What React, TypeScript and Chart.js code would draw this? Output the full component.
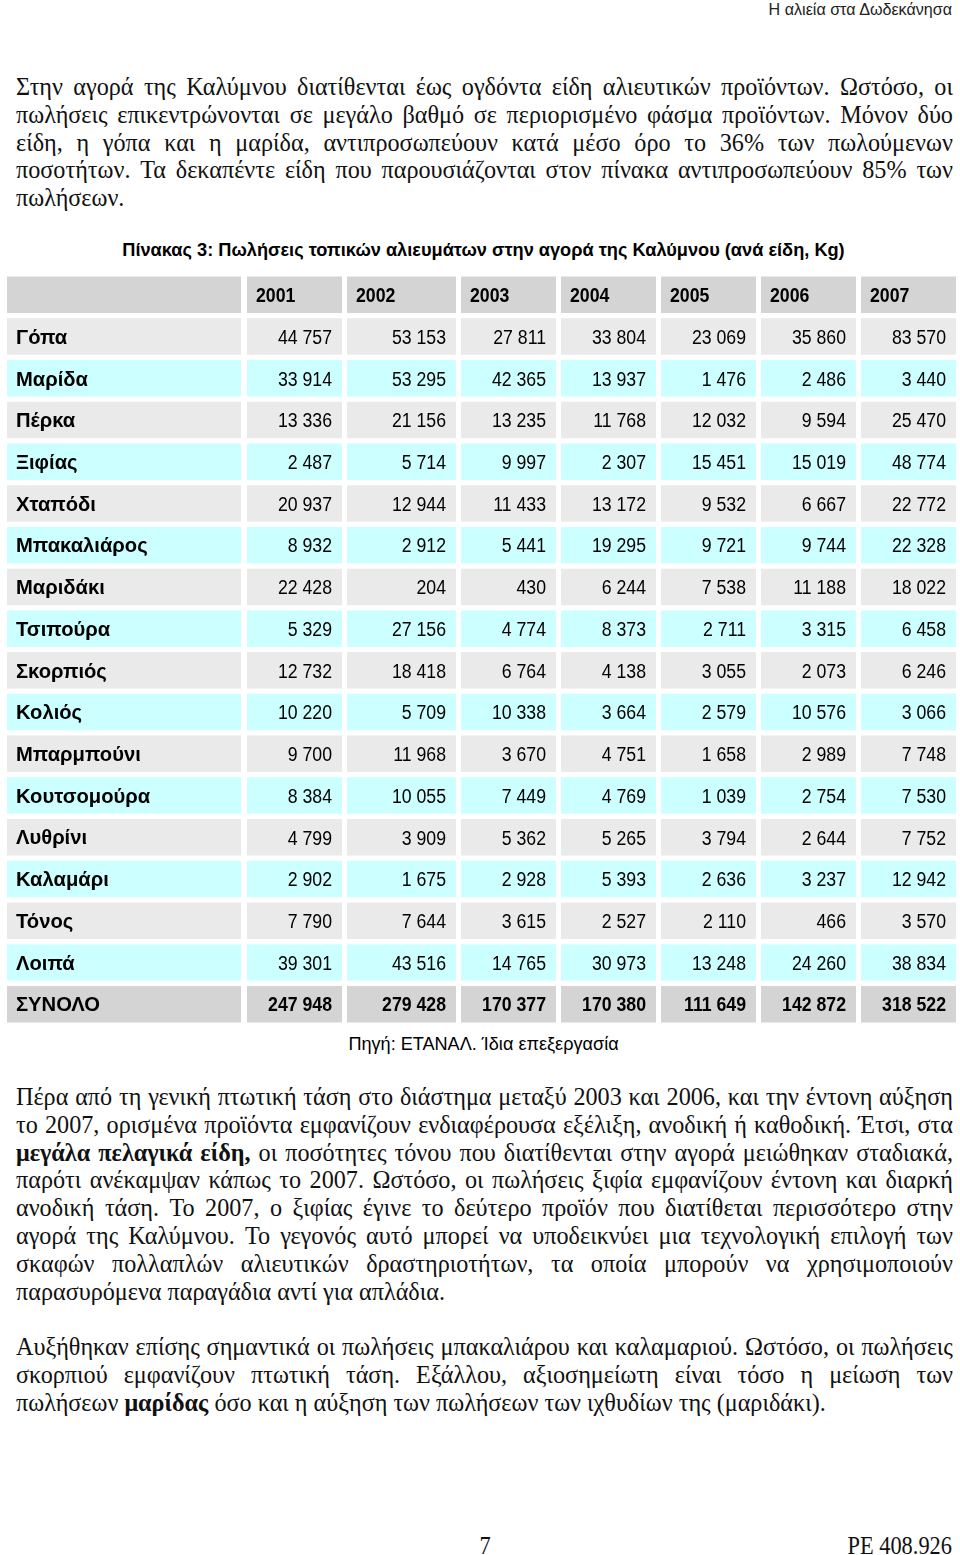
import React, { useEffect, useRef } from "react";
import { Chart, registerables } from "chart.js";

Chart.register(...registerables);

// ---------- data ----------
const years = ["2001", "2002", "2003", "2004", "2005", "2006", "2007"];
const species = [
  "Γόπα", "Μαρίδα", "Πέρκα", "Ξιφίας", "Χταπόδι", "Μπακαλιάρος", "Μαριδάκι", "Τσιπούρα",
  "Σκορπιός", "Κολιός", "Μπαρμπούνι", "Κουτσομούρα", "Λυθρίνι", "Καλαμάρι", "Τόνος", "Λοιπά",
];
const sales2001 = [44757, 33914, 13336, 2487, 20937, 8932, 22428, 5329, 12732, 10220, 9700, 8384, 4799, 2902, 7790, 39301];
const sales2002 = [53153, 53295, 21156, 5714, 12944, 2912, 204, 27156, 18418, 5709, 11968, 10055, 3909, 1675, 7644, 43516];
const sales2003 = [27811, 42365, 13235, 9997, 11433, 5441, 430, 4774, 6764, 10338, 3670, 7449, 5362, 2928, 3615, 14765];
const sales2004 = [33804, 13937, 11768, 2307, 13172, 19295, 6244, 8373, 4138, 3664, 4751, 4769, 5265, 5393, 2527, 30973];
const sales2005 = [23069, 1476, 12032, 15451, 9532, 9721, 7538, 2711, 3055, 2579, 1658, 1039, 3794, 2636, 2110, 13248];
const sales2006 = [35860, 2486, 9594, 15019, 6667, 9744, 11188, 3315, 2073, 10576, 2989, 2754, 2644, 3237, 466, 24260];
const sales2007 = [83570, 3440, 25470, 48774, 22772, 22328, 18022, 6458, 6246, 3066, 7748, 7530, 7752, 12942, 3570, 38834];
const totalLabel = "ΣΥΝΟΛΟ";
const totals = [247948, 279428, 170377, 170380, 111649, 142872, 318522];

const tableTitle = "Πίνακας 3: Πωλήσεις τοπικών αλιευμάτων στην αγορά της Καλύμνου (ανά είδη, Kg)";
const sourceNote = "Πηγή: ΕΤΑΝΑΛ. Ίδια επεξεργασία";
const runningHead = "Η αλιεία στα Δωδεκάνησα";
const pageNumber = "7";
const docRef = "PE 408.926";

const para1 = [
  "Στην αγορά της Καλύμνου διατίθενται έως ογδόντα είδη αλιευτικών προϊόντων. Ωστόσο, οι",
  "πωλήσεις επικεντρώνονται σε μεγάλο βαθμό σε περιορισμένο φάσμα προϊόντων. Μόνον δύο",
  "είδη, η γόπα και η μαρίδα, αντιπροσωπεύουν κατά μέσο όρο το 36% των πωλούμενων",
  "ποσοτήτων. Τα δεκαπέντε είδη που παρουσιάζονται στον πίνακα αντιπροσωπεύουν 85% των",
  "πωλήσεων.",
];
const para2 = [
  "Πέρα από τη γενική πτωτική τάση στο διάστημα μεταξύ 2003 και 2006, και την έντονη αύξηση",
  "το 2007, ορισμένα προϊόντα εμφανίζουν ενδιαφέρουσα εξέλιξη, ανοδική ή καθοδική. Έτσι, στα",
  "*μεγάλα *πελαγικά *είδη, οι ποσότητες τόνου που διατίθενται στην αγορά μειώθηκαν σταδιακά,",
  "παρότι ανέκαμψαν κάπως το 2007. Ωστόσο, οι πωλήσεις ξιφία εμφανίζουν έντονη και διαρκή",
  "ανοδική τάση. Το 2007, ο ξιφίας έγινε το δεύτερο προϊόν που διατίθεται περισσότερο στην",
  "αγορά της Καλύμνου. Το γεγονός αυτό μπορεί να υποδεικνύει μια τεχνολογική επιλογή των",
  "σκαφών πολλαπλών αλιευτικών δραστηριοτήτων, τα οποία μπορούν να χρησιμοποιούν",
  "παρασυρόμενα παραγάδια αντί για απλάδια.",
];
const para3 = [
  "Αυξήθηκαν επίσης σημαντικά οι πωλήσεις μπακαλιάρου και καλαμαριού. Ωστόσο, οι πωλήσεις",
  "σκορπιού εμφανίζουν πτωτική τάση. Εξάλλου, αξιοσημείωτη είναι τόσο η μείωση των",
  "πωλήσεων *μαρίδας όσο και η αύξηση των πωλήσεων των ιχθυδίων της (μαριδάκι).",
];

// ---------- layout / style ----------
const SY = 1.145; // vertical stretch for digits in the table
const SERIF = '"Liberation Serif", "Times New Roman", serif';
const SANS = '"Liberation Sans", Arial, sans-serif';
const BODY_SIZE = 24.2;
const NUM_SIZE = 17.7;
const LABEL_SIZE = 20.2;
const colEdges: [number, number][] = [
  [7, 241], [247, 342], [347, 456], [461, 556], [561, 656], [661, 756], [761, 856], [861, 956],
];
const GRAY = "#d4d4d4";
const LIGHT = "#eaeaea";
const CYAN = "#ccffff";

const rowLabels = ["", ...species, totalLabel];
const yearSeries = [sales2001, sales2002, sales2003, sales2004, sales2005, sales2006, sales2007];

function rowColor(r: number) {
  if (r === 0 || r === rowLabels.length - 1) return GRAY;
  return (r - 1) % 2 === 0 ? LIGHT : CYAN;
}
function fmt(n: number) {
  return String(n).replace(/\B(?=(\d{3})+(?!\d))/g, " ");
}

function drawText(
  ctx: CanvasRenderingContext2D, text: string, x: number, yCenter: number,
  align: CanvasTextAlign, font: string, size: number, sy: number,
) {
  ctx.save();
  ctx.font = font;
  ctx.fillStyle = "#000";
  ctx.textAlign = align;
  ctx.textBaseline = "alphabetic";
  ctx.translate(x, yCenter + 0.358 * size * sy);
  ctx.scale(1, sy);
  ctx.fillText(text, 0, 0);
  ctx.restore();
}

const cellTextPlugin = {
  id: "cellText",
  afterDatasetsDraw(chart: any) {
    const ctx = chart.ctx as CanvasRenderingContext2D;
    const xs = chart.scales.x;
    const ys = chart.scales.y;
    const numBold = `bold ${NUM_SIZE}px ${SANS}`;
    const numReg = `${NUM_SIZE}px ${SANS}`;
    const labelBold = `bold ${LABEL_SIZE}px ${SANS}`;
    rowLabels.forEach((label, r) => {
      const yc = ys.getPixelForValue(r);
      if (r === 0) {
        years.forEach((yr, c) => {
          drawText(ctx, yr, xs.getPixelForValue(colEdges[c + 1][0]) + 9, yc, "left", numBold, NUM_SIZE, SY);
        });
        return;
      }
      drawText(ctx, label, xs.getPixelForValue(colEdges[0][0]) + 9, yc, "left", labelBold, LABEL_SIZE, 1);
      const isTotal = r === rowLabels.length - 1;
      yearSeries.forEach((series, c) => {
        const v = isTotal ? totals[c] : series[r - 1];
        drawText(ctx, fmt(v), xs.getPixelForValue(colEdges[c + 1][1]) - 10, yc, "right", isTotal ? numBold : numReg, NUM_SIZE, SY);
      });
    });
  },
};

function TableChart() {
  const ref = useRef<HTMLCanvasElement | null>(null);
  useEffect(() => {
    if (!ref.current) return;
    const chart = new Chart(ref.current, {
      type: "bar",
      data: {
        labels: rowLabels,
        datasets: colEdges.map((edge) => ({
          data: rowLabels.map(() => edge) as any,
          backgroundColor: rowLabels.map((_, r) => rowColor(r)),
          borderWidth: 0,
          grouped: false,
          barPercentage: 0.875,
          categoryPercentage: 1,
        })),
      },
      options: {
        indexAxis: "y",
        responsive: false,
        animation: false,
        layout: { padding: 0 },
        plugins: { legend: { display: false }, tooltip: { enabled: false }, title: { display: false } },
        scales: {
          x: { type: "linear", min: 7, max: 960, display: false },
          y: { type: "category", display: false, offset: true },
        },
      },
      plugins: [cellTextPlugin],
    } as any);
    return () => chart.destroy();
  }, []);
  return (
    <canvas
      ref={ref}
      width={953}
      height={751}
      style={{ position: "absolute", left: 7, top: 274, width: 953, height: 751 }}
    />
  );
}

type LineProps = {
  y: number;
  text: string;
  size: number;
  family: string;
  weight?: number | string;
  left?: number;
  width?: number;
  align?: "left" | "right" | "center" | "justify";
  color?: string;
  sy?: number;
};

function TextLine({ y, text, size, family, weight = 400, left = 16, width = 937, align = "left", color = "#000", sy = 1 }: LineProps) {
  const lh = Math.round(size * 2);
  const base: React.CSSProperties = {
    position: "absolute",
    left,
    width,
    top: y - lh / 2,
    height: lh,
    lineHeight: lh + "px",
    fontSize: size,
    fontFamily: family,
    fontWeight: weight as any,
    color,
    transform: sy !== 1 ? `scaleY(${sy})` : undefined,
    transformOrigin: "center",
    whiteSpace: "nowrap",
  };
  const words = text.split(" ");
  const renderWord = (w: string, i: number) =>
    w.startsWith("*") ? <b key={i}>{w.slice(1)}</b> : <span key={i}>{w}</span>;
  if (align === "justify") {
    return (
      <div style={{ ...base, display: "flex", justifyContent: "space-between" }}>
        {words.map(renderWord)}
      </div>
    );
  }
  return (
    <div style={{ ...base, textAlign: align }}>
      {words.map((w, i) => (
        <React.Fragment key={i}>
          {i > 0 ? " " : ""}
          {renderWord(w, i)}
        </React.Fragment>
      ))}
    </div>
  );
}

function Paragraph({ lines, y0 }: { lines: string[]; y0: number }) {
  const pitch = 27.8;
  return (
    <>
      {lines.map((l, i) => (
        <TextLine
          key={i}
          y={y0 + i * pitch}
          text={l}
          size={BODY_SIZE}
          family={SERIF}
          align={i === lines.length - 1 ? "left" : "justify"}
          color="#111"
        />
      ))}
    </>
  );
}

export default function App() {
  useEffect(() => {
    document.body.style.margin = "0";
  }, []);
  return (
    <div style={{ position: "absolute", left: 0, top: 0, width: 960, height: 1555, overflow: "hidden", background: "#fff" }}>
      <TextLine y={9} text={runningHead} size={16.1} family={SANS} left={600} width={352} align="right" color="#222" />
      <Paragraph lines={para1} y0={87} />
      <TextLine y={250} text={tableTitle} size={18.2} family={SANS} weight="bold" left={0} width={967} align="center" />
      <TableChart />
      <TextLine y={1044} text={sourceNote} size={18.1} family={SANS} left={0} width={967} align="center" />
      <Paragraph lines={para2} y0={1097} />
      <Paragraph lines={para3} y0={1347} />
      <TextLine y={1545} text={pageNumber} size={22.4} family={SERIF} left={435} width={100} align="center" color="#111" sy={1.1} />
      <TextLine y={1545} text={docRef} size={22.4} family={SERIF} left={700} width={252} align="right" color="#111" sy={1.1} />
    </div>
  );
}
